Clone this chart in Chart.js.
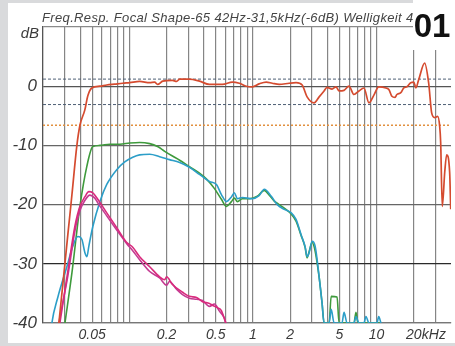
<!DOCTYPE html>
<html><head><meta charset="utf-8">
<script src="https://cdn.jsdelivr.net/npm/chart.js@4/dist/chart.umd.min.js"></script>
<style>html,body{margin:0;padding:0;background:#d9dadc;}canvas{display:block;}</style>
</head><body>
<canvas id="c" width="455" height="346"></canvas>
<script>
// ---- data (frequency in kHz, level in dB) ----
const titleText = "Freq.Resp. Focal Shape-65 42Hz-31,5kHz(-6dB) Welligkeit 4";
const badgeText = "01";
const yTickLabels = [0, -10, -20, -30, -40];
const xLabelled = [0.05, 0.2, 0.5, 1, 2, 5, 10, 20];
const xGrid = [0.02,0.03,0.04,0.05,0.06,0.07,0.08,0.09,0.1,0.2,0.3,0.4,0.5,0.6,0.7,0.8,0.9,1,2,3,4,5,6,7,8,9,10,20,30,40];

const redF = [0.0259,0.0269,0.029,0.0318,0.0343,0.0376,0.0398,0.0436,0.0461,0.0497,0.0577,0.0656,0.0762,0.0884,0.1006,0.121,0.146,0.160,0.169,0.186,0.223,0.241,0.255,0.306,0.369,0.444,0.566,0.681,0.776,0.883,0.988,1.12,1.28,1.43,1.63,1.96,2.23,2.50,2.74,3.12,3.43,3.76,3.97,4.36,4.70,4.97,5.45,5.98,6.56,7.2,7.9,8.67,9.51,10.4,11.9,12.6,13.3,14.1,14.6,15.7,16.6,17.6,18.9,20.0,20.8,21.9,24.5,26.4,27.9,29.5,31.2,32.4,33.0,34.0,35.6,36.9,39.0,39.8];
const redDb = [-44,-40,-33.3,-25,-18.3,-10,-6.6,-4,-1.6,-0.3,0.0,0.2,0.35,0.5,0.6,0.8,0.6,0.7,0.3,0.85,1.0,0.8,1.2,1.2,0.85,0.3,0.3,0.7,0.5,0.0,-0.1,0.4,0.7,0.5,0.3,0.5,0.6,0.2,-1.8,-2.8,-1.8,-0.8,-0.2,-0.5,-0.1,-0.8,-0.7,0.0,-1.4,-0.8,-0.3,-2.8,-1.5,-0.1,-0.3,-0.6,-1.7,-1.9,-1.4,-1.1,-0.3,-0.1,0.6,0.7,-0.3,1.1,3.9,0.5,-4.5,-5.3,-5.1,-6.8,-9.5,-20.3,-14.5,-11.6,-14.5,-20.8];

const greenF = [0.0301,0.0343,0.0398,0.0453,0.0506,0.0577,0.0694,0.0836,0.1006,0.121,0.146,0.169,0.193,0.223,0.255,0.306,0.369,0.421,0.488,0.555,0.610,0.669,0.707,0.748,0.820,0.933,1.084,1.234,1.354,1.486,1.63,1.79,2.04,2.23,2.45,2.64,2.74,2.84,3.01,3.18,3.43,3.62,3.76,4.13,4.29,4.79,4.97,6.56,6.81,7.06,10.84];
const greenDb = [-40,-31.5,-20.3,-13.5,-10.2,-10.0,-9.8,-9.8,-9.6,-9.5,-9.7,-10.2,-11.0,-11.8,-12.5,-13.6,-14.7,-15.7,-17.3,-19.1,-20.3,-19.5,-18.9,-19.5,-19.0,-19.0,-18.6,-17.6,-18.4,-19.4,-20.0,-20.6,-21.6,-22.8,-25.2,-27.2,-29.0,-28.0,-26.4,-27.8,-32.3,-36.6,-40,-40,-35.5,-35.6,-40,-40,-38.2,-40,-40];

const blueF = [0.0228,0.0236,0.0264,0.0312,0.0349,0.0383,0.0413,0.0436,0.0453,0.0470,0.0506,0.0577,0.0656,0.079,0.0917,0.1064,0.121,0.146,0.1756,0.211,0.255,0.306,0.369,0.444,0.506,0.555,0.610,0.669,0.707,0.748,0.820,0.988,1.12,1.234,1.406,1.571,1.79,2.04,2.23,2.45,2.64,2.74,2.84,3.01,3.18,3.43,3.62,3.76,4.13,4.29,4.53,5.25,5.45,5.77,6.56,6.81,7.2,7.9,8.2,8.67,10.07,10.4,10.84];
const blueDb = [-43,-40,-35.6,-30.5,-27,-25.4,-25.9,-28.1,-28.8,-27,-23.7,-19.5,-16.6,-14.1,-12.8,-12.0,-11.6,-11.5,-11.9,-12.4,-12.9,-13.7,-14.9,-16.1,-16.6,-18.3,-19.5,-18.7,-18.0,-19.0,-18.8,-19.0,-18.5,-17.4,-18.6,-20.0,-20.8,-21.4,-22.5,-25.1,-27.1,-28.8,-28.2,-26.2,-27.0,-32.2,-36.6,-40,-40,-37.7,-40,-40,-38.2,-40,-40,-38.9,-40,-40,-38.9,-40,-40,-38.9,-40];

const mag1F = [0.0259,0.0274,0.0318,0.0362,0.0398,0.0436,0.0470,0.0506,0.0555,0.0656,0.079,0.0952,0.1064,0.121,0.146,0.1756,0.193,0.200,0.223,0.269,0.306,0.349,0.390,0.444,0.470,0.515,0.555,0.587,0.621];
const mag1Db = [-43,-40,-31.2,-23.7,-20.3,-18.7,-17.8,-18.0,-19.1,-21.4,-23.9,-26.4,-27.2,-28.8,-30.5,-32.2,-32.7,-32.2,-33.5,-34.8,-35.5,-35.7,-36.4,-36.7,-37.0,-37.4,-37.9,-39.3,-41];

const mag2F = [0.0255,0.0269,0.0318,0.0362,0.0398,0.0436,0.0479,0.0525,0.0555,0.0656,0.079,0.0952,0.1064,0.121,0.146,0.1756,0.200,0.211,0.241,0.269,0.306,0.349,0.390,0.444,0.488,0.535,0.587,0.621];
const mag2Db = [-43,-40,-32,-24.5,-21,-19.3,-18.4,-18.9,-19.7,-21.9,-24.3,-26.6,-27.8,-29.3,-31.3,-32.4,-33.6,-33.0,-34.3,-35.2,-35.8,-36.0,-36.2,-37.2,-36.8,-38.0,-39.2,-41];

const refRange = [0.02, 40];
const refUpperDb = 1.2;
const refLowerDb = -3.1;
const refCutDb = -6.6;

// ---- build ----
const pts = (f, d) => f.map((v, i) => ({x: v, y: d[i]}));
const flat = (db) => refRange.map(v => ({x: v, y: db}));
const near = (a, b) => Math.abs(a - b) < 1e-9;
const lineDs = (data, color, order, w) => ({data, borderColor: color, borderWidth: w || 1.6, pointRadius: 0, tension: 0, cubicInterpolationMode: 'monotone', fill: false, order});

const datasets = [
  lineDs(pts(redF, redDb), '#d54b2f', 0, 1.7),
  lineDs(pts(mag1F, mag1Db), '#d92a7c', 1),
  lineDs(pts(mag2F, mag2Db), '#c43a92', 2),
  lineDs(pts(blueF, blueDb), '#2c9ec8', 3),
  lineDs(pts(greenF, greenDb), '#3e9a3c', 4),
  Object.assign(lineDs(flat(refUpperDb), '#4d5e74', 5, 1), {borderDash: [3, 2]}),
  Object.assign(lineDs(flat(refLowerDb), '#4d5e74', 6, 1), {borderDash: [3, 2]}),
  Object.assign(lineDs(flat(refCutDb), '#e2903e', 7, 1.3), {borderDash: [2, 2]})
];

const yGridColor = v => ({10: '#8a8a8a', 0: '#555', '-10': '#666', '-20': '#666', '-30': '#2a2a2a', '-40': '#777'})[v] || '#777';

const deco = {
  id: 'deco',
  beforeDraw(chart) {
    const c = chart.ctx;
    c.save();
    c.fillStyle = '#d9dadc'; c.fillRect(0, 0, 455, 346);
    c.fillStyle = '#ffffff'; c.fillRect(8, 3, 447, 340);
    c.restore();
  },
  afterDraw(chart) {
    const c = chart.ctx, xs = chart.scales.x, ys = chart.scales.y;
    c.save();
    // title
    c.fillStyle = '#444';
    c.font = 'italic 13px "Liberation Sans", Arial, sans-serif';
    c.textAlign = 'left'; c.textBaseline = 'alphabetic';
    try { c.letterSpacing = '0.35px'; } catch(e) {}
    c.fillText(titleText, 42, 22);
    try { c.letterSpacing = '0px'; } catch(e) {}
    // dB unit
    c.fillStyle = '#3a3a3a';
    c.font = 'italic 15px "Liberation Sans", Arial, sans-serif';
    c.textAlign = 'right';
    c.fillText('dB', 39, ys.getPixelForValue(10) + 10.5);
    // kHz unit
    c.textAlign = 'left'; c.textBaseline = 'top';
    c.font = 'italic 14px "Liberation Sans", Arial, sans-serif';
    c.fillText('kHz', xs.getPixelForValue(20) + 8, xs.top + 5);
    // badge
    c.fillStyle = '#ffffff'; c.fillRect(413, 0, 42, 50);
    c.fillStyle = '#111';
    c.font = 'bold 33px "Liberation Sans Narrow", "Arial Narrow", "Liberation Sans", sans-serif';
    c.textAlign = 'center'; c.textBaseline = 'alphabetic';
    c.fillText(badgeText, 432, 37);
    c.restore();
  }
};

new Chart(document.getElementById('c'), {
  type: 'line',
  data: {datasets},
  options: {
    responsive: false, animation: false, devicePixelRatio: 1,
    layout: {padding: {left: 8, right: 3, top: 27, bottom: 3}},
    plugins: {legend: {display: false}, tooltip: {enabled: false}, title: {display: false}},
    scales: {
      x: {
        type: 'logarithmic', min: 0.02, max: 40,
        afterBuildTicks: s => { s.ticks = xGrid.map(v => ({value: v})); },
        afterFit: s => { s.height = 20; },
        grid: {color: c => (c.tick && near(c.tick.value, 40)) ? 'rgba(0,0,0,0)' : '#858585', lineWidth: 1.2, drawTicks: false},
        border: {display: true, color: '#777', width: 1.2},
        ticks: {
          autoSkip: false, maxRotation: 0, minRotation: 0, padding: 4, color: '#3a3a3a',
          font: {family: '"Liberation Sans", Arial, sans-serif', size: 14, style: 'italic'},
          callback: v => { const m = xLabelled.find(t => near(t, v)); return m === undefined ? '' : String(m); }
        }
      },
      y: {
        min: -40, max: 10,
        afterBuildTicks: s => { s.ticks = [10, ...yTickLabels].map(v => ({value: v})); },
        afterFit: s => { s.width = 35; },
        grid: {color: c => c.tick ? yGridColor(c.tick.value) : '#777', lineWidth: 1.2, drawTicks: false},
        border: {display: true, color: '#555', width: 1.2},
        ticks: {
          padding: 6, color: '#3a3a3a',
          font: {family: '"Liberation Sans", Arial, sans-serif', size: 17, style: 'italic'},
          callback: v => v === 10 ? '' : String(v)
        }
      }
    }
  },
  plugins: [deco]
});
</script>
</body></html>
